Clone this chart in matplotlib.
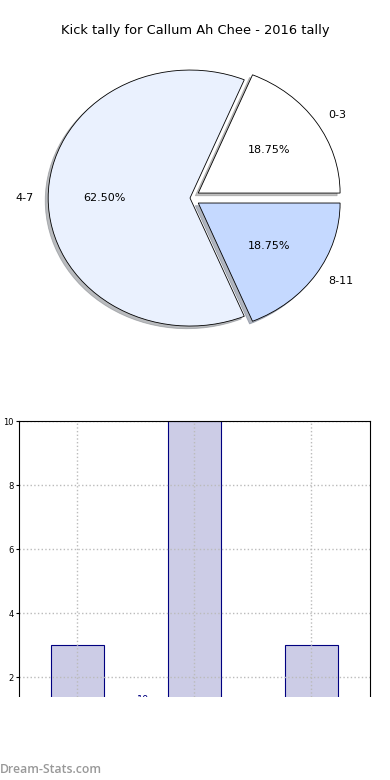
import matplotlib
matplotlib.use("Agg")
import matplotlib.pyplot as plt
from matplotlib.patches import Rectangle

title = "Kick tally for Callum Ah Chee - 2016 tally"
pie_labels = ["0-3", "4-7", "8-11"]
pie_values = [3, 10, 3]
pie_colors = ["#FFFFFF", "#EAF1FE", "#C5D9FF"]
pie_explode = [0.07, 0.0, 0.07]

bar_cats = [0, 1, 2]
bar_values = [3, 10, 3]
y_ticks = [2, 4, 6, 8, 10]

fig = plt.figure(figsize=(3.9, 7.8), dpi=100)

# Pie
ax1 = fig.add_axes([0.0872, 0.5656, 0.8, 0.361])
wedges, texts, autotexts = ax1.pie(
    pie_values, labels=pie_labels, colors=pie_colors, explode=pie_explode,
    autopct="%1.2f%%", shadow={"ox": -0.015, "oy": -0.015, "shade": 0.5},
    startangle=0, counterclock=True,
    wedgeprops=dict(edgecolor="black", linewidth=0.6),
    textprops=dict(fontsize=8))
ax1.set_aspect("auto")
ax1.set_xlim(-1.1, 1.1)
ax1.set_ylim(-1.1, 1.1)
fig.text(0.5, 0.961, title, ha="center", va="center", fontsize=9.4)

# Bars
ax2 = fig.add_axes([0.0487, 0.05, 0.9, 0.41])
ax2.bar(bar_cats, bar_values, width=0.45, color="#CCCCE6", edgecolor="#000080", linewidth=0.8, zorder=1)
ax2.set_xlim(-0.5, 2.5)
ax2.set_ylim(0, 10)
ax2.set_yticks(y_ticks)
ax2.set_yticklabels([str(v) for v in y_ticks], fontsize=6)
ax2.set_xticks(bar_cats)
ax2.tick_params(axis="x", labelbottom=False, length=0)
ax2.tick_params(axis="y", length=2, pad=2)
ax2.set_axisbelow("line")
ax2.grid(True, linestyle=":", color="#BBBBBB", linewidth=1)
ax2.set_ylabel("Games Played", fontsize=7, labelpad=4)
ax2.text(0.56, 1.44, "10", color="#000080", fontsize=7, ha="center", va="top", zorder=5)

# cover bottom
fig.patches.append(Rectangle((0, 0), 1, (780 - 697) / 780, transform=fig.transFigure,
                             facecolor="white", edgecolor="none", zorder=10))
fig.text(0.0, 0.013, "Dream-Stats.com", color="#999999", fontsize=8.8, fontweight="semibold",
         family=["Open Sans", "DejaVu Sans"], ha="left", va="center", zorder=11)

fig.savefig("out.png", dpi=100)
